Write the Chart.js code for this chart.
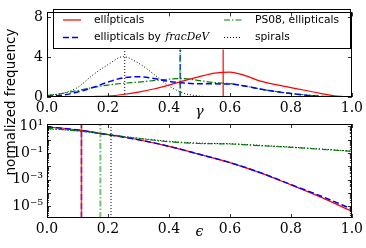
<!DOCTYPE html>
<html><head><meta charset="utf-8">
<script src="https://cdn.jsdelivr.net/npm/chart.js@4"></script>
<style>
html,body{margin:0;padding:0;background:#fff;}
#wrap{position:relative;width:366px;height:248px;}
canvas{position:absolute;left:0;top:0;}
</style></head><body>
<div id="wrap"><canvas id="c1" width="366" height="248"></canvas><canvas id="c2" width="366" height="248"></canvas></div>
<script>
// ---- data ----
const seriesLabels = ['ellipticals', 'ellipticals by ', 'PS08, ellipticals', 'spirals'];
const labelMathSuffix = ['', 'fracDeV', '', ''];

const gammaGrid = [0,0.05,0.1,0.15,0.2,0.25,0.3,0.35,0.4,0.45,0.5,0.55,0.6,0.65,0.7,0.75,0.8,0.85,0.9,0.95,1.0];
const gammaEllipticals = [0.0,0.01,0.02,0.05,0.09,0.25,0.49,0.8,1.2,1.65,2.05,2.4,2.5,2.15,1.6,1.25,0.95,0.65,0.34,0.08,0.0];
const gammaFracDeV    = [0.08,0.18,0.5,0.95,1.5,1.93,2.03,1.87,1.57,1.4,1.32,1.32,1.3,1.1,0.8,0.55,0.34,0.18,0.05,0.01,0.0];
const gammaPS08       = [0.15,0.35,0.65,0.95,1.2,1.38,1.5,1.65,1.8,1.85,1.65,1.45,1.35,1.1,0.8,0.55,0.36,0.2,0.06,0.01,0.0];
const gammaSpirals    = [0.15,0.37,0.95,2.2,3.25,4.05,3.4,2.3,1.1,0.37,0.1,0.03,0.01,0,0,0,0,0,0,0,0];
const gammaMarkers = [0.578, 0.437, 0.437, 0.255];

const epsGrid = [0,0.1,0.2,0.3,0.4,0.5,0.6,0.7,0.8,0.9,1.0];
const epsEllipticals = [9.5,5.5,2.4,1.0,0.32,0.079,0.019,0.0032,0.0004,4.5e-5,4.0e-6];
const epsFracDeV     = [9.5,5.5,2.4,1.0,0.32,0.08,0.019,0.0033,0.00042,5.5e-5,6.0e-6];
const epsPS08        = [7.1,4.8,2.5,1.26,0.71,0.52,0.48,0.355,0.27,0.19,0.135];
const epsSpiralsX    = [0,0.004,0.1,0.2,0.3,0.4,0.5,0.6,0.7,0.8,0.9,1.0];
const epsSpirals     = [1e-7,6.3,4.5,2.5,1.32,0.76,0.56,0.5,0.38,0.28,0.2,0.14];
const epsMarkers = [0.113, 0.113, 0.175, 0.21];

const gammaTicks = [0,0.2,0.4,0.6,0.8,1.0];
const freqTicks = [0,4,8];
const epsTicks = [0,0.2,0.4,0.6,0.8,1.0];
const logTicks = [1e-5,1e-4,1e-3,1e-2,1e-1,1,10];
const logLabelled = [1e-5,1e-3,1e-1,10];

const freqMin = 0, freqMax = 8.5;
const logMin = 1.26e-6, logMax = 15.4;

// ---- styles ----
const styles = [
  {color:'#ff0000', dash:[], width:1.2, vcolor:'rgba(255,0,0,0.75)', vwidth:1.6},
  {color:'#0000ff', dash:[6,3], width:1.5, vcolor:'rgba(0,0,255,0.8)', vwidth:1.5},
  {color:'#008000', dash:[6,2,1.5,2], width:1.2, vcolor:'rgba(0,150,0,0.55)', vwidth:2},
  {color:'#000000', dash:[1,2], width:1, vcolor:'#000', vwidth:1}
];
const serif = 'DejaVu Serif';
const sans = 'DejaVu Sans';

function curve(xs, ys, i) {
  return {data: xs.map((x, k) => ({x, y: ys[k]})), borderColor: styles[i].color, borderDash: styles[i].dash,
    borderWidth: styles[i].width, pointRadius: 0, fill: false, tension: 0.4, cubicInterpolationMode: 'monotone'};
}
function vline(v, lo, hi, i) {
  return {data: [{x: v, y: lo}, {x: v, y: hi}], borderColor: styles[i].vcolor, borderDash: styles[i].dash,
    borderWidth: styles[i].vwidth, pointRadius: 0, fill: false, tension: 0};
}

const supMap = {'-':'⁻','0':'⁰','1':'¹','2':'²','3':'³','4':'⁴','5':'⁵','6':'⁶','7':'⁷','8':'⁸','9':'⁹'};
function sup(n) { return String(n).split('').map(c => supMap[c]).join(''); }

const framePlugin = {
  id: 'frame',
  afterDraw(chart) {
    const ctx = chart.ctx, a = chart.chartArea;
    ctx.save();
    ctx.strokeStyle = '#000'; ctx.lineWidth = 1; ctx.setLineDash([]);
    ctx.strokeRect(Math.round(a.left) + 0.5, Math.round(a.top) + 0.5, Math.round(a.right - a.left) - 1, Math.round(a.bottom - a.top) - 1);
    ctx.lineWidth = 0.8;
    const xs = chart.scales.x, ys = chart.scales.y;
    ctx.beginPath();
    xs.ticks.forEach(t => {
      const px = Math.round(xs.getPixelForValue(t.value)) + 0.5;
      ctx.moveTo(px, a.bottom); ctx.lineTo(px, a.bottom - 4);
      ctx.moveTo(px, a.top); ctx.lineTo(px, a.top + 4);
    });
    ys.ticks.forEach(t => {
      const py = Math.round(ys.getPixelForValue(t.value)) + 0.5;
      ctx.moveTo(a.left, py); ctx.lineTo(a.left + 4, py);
      ctx.moveTo(a.right, py); ctx.lineTo(a.right - 4, py);
    });
    if (ys.type === 'logarithmic') {
      for (let e = -6; e <= 1; e++) {
        for (let k = 2; k <= 9; k++) {
          const v = k * Math.pow(10, e);
          if (v < ys.min || v > ys.max) continue;
          const py = Math.round(ys.getPixelForValue(v)) + 0.5;
          ctx.moveTo(a.left, py); ctx.lineTo(a.left + 2, py);
          ctx.moveTo(a.right, py); ctx.lineTo(a.right - 2, py);
        }
      }
    }
    ctx.stroke();
    ctx.restore();
  }
};

const legendPlugin = {
  id: 'boxlegend',
  afterDatasetsDraw(chart) {
    const ctx = chart.ctx;
    ctx.save();
    ctx.fillStyle = '#fff'; ctx.strokeStyle = '#000'; ctx.lineWidth = 1; ctx.setLineDash([]);
    ctx.fillRect(53, 9.5, 298, 40);
    ctx.strokeRect(53.5, 9.5, 297, 39);
    ctx.font = '12px "' + sans + '"';
    const fs = Math.min(12, 12 * 84 / ctx.measureText(seriesLabels[2]).width);
    const pos = [[63, 94, 20], [63, 94, 37.5], [224, 255, 20], [224, 255, 37.5]];
    ctx.textBaseline = 'middle';
    seriesLabels.forEach((lab, i) => {
      const [lx, tx, y] = pos[i];
      const s = styles[i];
      ctx.beginPath();
      ctx.strokeStyle = s.color; ctx.lineWidth = s.width; ctx.setLineDash(s.dash);
      ctx.moveTo(lx, y); ctx.lineTo(lx + 18, y); ctx.stroke();
      ctx.setLineDash([]);
      ctx.fillStyle = '#000';
      ctx.font = fs.toFixed(2) + 'px "' + sans + '"';
      ctx.fillText(lab, tx, y);
      if (labelMathSuffix[i]) {
        const w = ctx.measureText(lab).width;
        ctx.font = 'italic ' + fs.toFixed(2) + 'px "' + serif + '"';
        ctx.fillText(labelMathSuffix[i], tx + w + 1, y);
      }
    });
    ctx.restore();
  }
};

const ylabelPlugin = {
  id: 'ylabel',
  afterDraw(chart) {
    const ctx = chart.ctx;
    ctx.save();
    ctx.translate(11, 102);
    ctx.rotate(-Math.PI / 2);
    ctx.font = '13.5px "' + sans + '"';
    ctx.fillStyle = '#000';
    ctx.textAlign = 'center'; ctx.textBaseline = 'middle';
    ctx.fillText('normalized frequency', 0, 0);
    ctx.restore();
  }
};

function xScale(ticksArr, title, h, titlePad) {
  return {
    type: 'linear', min: 0, max: 1,
    afterBuildTicks: s => { s.ticks = ticksArr.map(v => ({value: v})); },
    afterFit: s => { s.height = h; },
    ticks: {callback: v => Number(v).toFixed(1), font: {family: serif, size: 14}, color: '#000', padding: 3, maxRotation: 0, autoSkip: false},
    grid: {display: false, drawTicks: false}, border: {display: false},
    title: {display: true, text: title, font: {family: serif, style: 'italic', size: 14}, color: '#000', padding: titlePad}
  };
}

Chart.defaults.animation = false;

new Chart(document.getElementById('c1'), {
  type: 'line',
  data: {datasets: [
    curve(gammaGrid, gammaEllipticals, 0),
    curve(gammaGrid, gammaFracDeV, 1),
    curve(gammaGrid, gammaPS08, 2),
    curve(gammaGrid, gammaSpirals, 3),
    vline(gammaMarkers[2], freqMin, freqMax, 2),
    vline(gammaMarkers[1], freqMin, freqMax, 1),
    vline(gammaMarkers[3], freqMin, freqMax, 3),
    vline(gammaMarkers[0], freqMin, freqMax, 0)
  ]},
  options: {
    responsive: false, animation: false,
    layout: {padding: {left: 0, right: 9, top: 4, bottom: 127}},
    plugins: {legend: {display: false}, tooltip: {enabled: false}},
    scales: {
      x: xScale(gammaTicks, 'γ', 24, {top: 0, bottom: 0}),
      y: {
        type: 'linear', min: freqMin, max: freqMax,
        afterBuildTicks: s => { s.ticks = freqTicks.map(v => ({value: v})); },
        afterFit: s => { s.width = 47; },
        ticks: {callback: v => String(v), font: {family: serif, size: 14}, color: '#000', padding: 4},
        grid: {display: false, drawTicks: false}, border: {display: false}
      }
    }
  },
  plugins: [framePlugin, legendPlugin]
});

new Chart(document.getElementById('c2'), {
  type: 'line',
  data: {datasets: [
    curve(epsGrid, epsPS08, 2),
    curve(epsSpiralsX, epsSpirals, 3),
    curve(epsGrid, epsFracDeV, 1),
    curve(epsGrid, epsEllipticals, 0),
    vline(epsMarkers[0], logMin, logMax, 0),
    vline(epsMarkers[1], logMin, logMax, 1),
    vline(epsMarkers[2], logMin, logMax, 2),
    vline(epsMarkers[3], logMin, logMax, 3)
  ]},
  options: {
    responsive: false, animation: false,
    layout: {padding: {left: 0, right: 9, top: 124, bottom: 0}},
    plugins: {legend: {display: false}, tooltip: {enabled: false}},
    scales: {
      x: xScale(epsTicks, 'ϵ', 30, {top: 0, bottom: 7}),
      y: {
        type: 'logarithmic', min: logMin, max: logMax,
        afterBuildTicks: s => { s.ticks = logTicks.map(v => ({value: v})); },
        afterFit: s => { s.width = 47; },
        ticks: {
          callback: v => logLabelled.some(l => Math.abs(l - v) / l < 1e-6) ? '10' + sup(Math.round(Math.log10(v))) : '',
          font: {family: serif, size: 14}, color: '#000', padding: 4, autoSkip: false
        },
        grid: {display: false, drawTicks: false}, border: {display: false}
      }
    }
  },
  plugins: [framePlugin, ylabelPlugin]
});
</script>
</body></html>
